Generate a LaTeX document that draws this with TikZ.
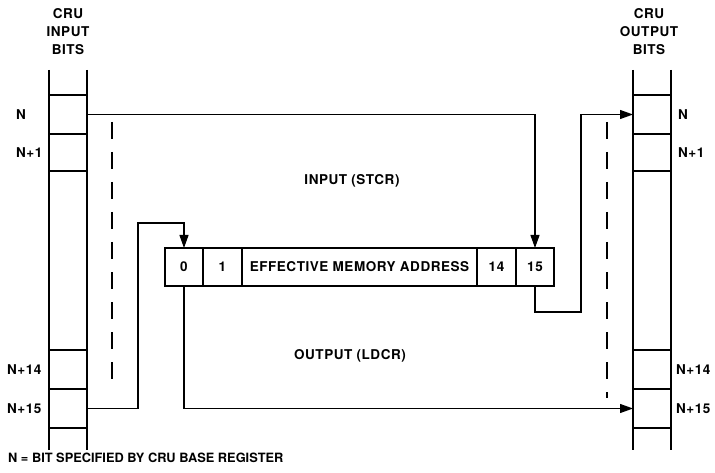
\documentclass[tikz,border=0pt]{standalone}
\usepackage{fontspec}
\setmainfont{TeX Gyre Heros}[LetterSpace=4]
\newfontfamily\notefont{TeX Gyre Heros}
\usetikzlibrary{arrows.meta,positioning}
\newcommand{\lblfont}{\bfseries\fontsize{13.5}{18}\selectfont}
\tikzset{
  bitcell/.style={draw, line width=1.8pt, minimum width=38pt, minimum height=39pt,
                  inner sep=0pt, outer sep=0pt},
  regcell/.style={draw, line width=1.5pt, minimum height=38pt, inner sep=0pt,
                  outer sep=0pt, font=\lblfont},
  rail/.style={line width=1.8pt},
  wire/.style={line width=1.2pt},
  feed/.style={wire, -{Triangle[length=13pt,width=9pt]}},
  guide/.style={line width=1.3pt, dash pattern=on 17pt off 13pt},
  lbl/.style={font=\lblfont, inner sep=0pt, align=center},
}

\begin{document}
\begin{tikzpicture}[x=1pt, y=-1pt]
    \useasboundingbox (0,0) rectangle (715,473);
    % input bits
    \node[lbl] (hin) at (68,32) {CRU\\INPUT\\BITS};
    \node[bitcell] (inN) at (68,114.5) {};
    \node[bitcell, minimum height=37pt, below=0pt of inN] (inN1) {};
    \node[bitcell] (in14) at (68,369.5) {};
    \node[bitcell, below=0pt of in14] (in15) {};
    \draw[rail] (49,70) -- (49,450) (87,70) -- (87,450);
    \node[lbl, anchor=west] (tN) at (16,115) {N};
    \node[lbl, anchor=west] (tN1) at (16,153) {N+1};
    \node[lbl, anchor=west] (tN14) at (7,370) {N+14};
    \node[lbl, anchor=west] (tN15) at (7,409) {N+15};
    % output bits
    \node[lbl] (hout) at (649,32) {CRU\\OUTPUT\\BITS};
    \node[bitcell] (outN) at (652,114.5) {};
    \node[bitcell, minimum height=37pt, below=0pt of outN] (outN1) {};
    \node[bitcell] (out14) at (652,369.5) {};
    \node[bitcell, below=0pt of out14] (out15) {};
    \draw[rail] (633,70) -- (633,450) (671,70) -- (671,450);
    \node[lbl, anchor=west] (uN) at (678,115) {N};
    \node[lbl, anchor=west] (uN1) at (678,153) {N+1};
    \node[lbl, anchor=west] (uN14) at (676,370) {N+14};
    \node[lbl, anchor=west] (uN15) at (676,409) {N+15};
    % register
    \node[regcell, minimum width=38pt] (r0) at (184,267) {0};
    \node[regcell, minimum width=39pt, right=0pt of r0] (r1) {1};
    \node[regcell, minimum width=235pt, right=0pt of r1] (rea) {EFFECTIVE MEMORY ADDRESS};
    \node[regcell, minimum width=39pt, right=0pt of rea] (r14) {14};
    \node[regcell, minimum width=38pt, right=0pt of r14] (r15) {15};
    \node[lbl] (tin) at (352,181) {INPUT (STCR)};
    \node[lbl] (tout) at (350,356) {OUTPUT (LDCR)};
    % transfers
    \coordinate (lp) at (138,223);
    \coordinate (rp) at (581,312);
    \draw[feed] (inN.east) -| (r15.north);
    \draw[feed] (in15.east) -| (lp) -| (r0.north);
    \draw[feed] (r15.south) |- (rp) |- (outN.west);
    \draw[feed] (r0.south) |- (out15.west);
    \draw[guide] (112,122) -- (112,390);
    \draw[guide] (607,122) -- (607,398);
    \node[lbl, anchor=west, font=\notefont\bfseries\fontsize{12.8}{18}\selectfont] (note)
      at (8,458) {N = BIT SPECIFIED BY CRU BASE REGISTER};
  \end{tikzpicture}
\end{document}
